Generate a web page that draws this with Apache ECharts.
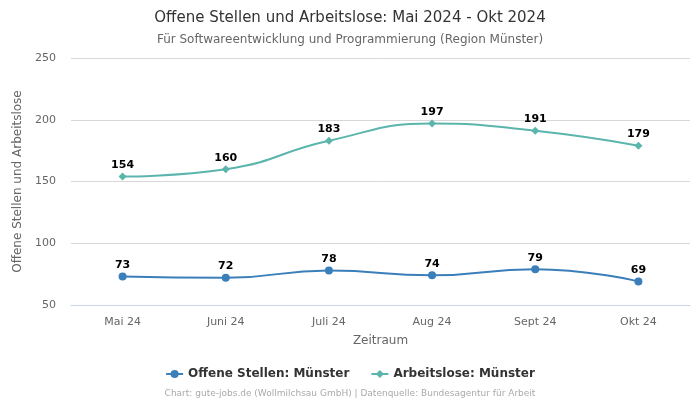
<!DOCTYPE html>
<html><head><meta charset="utf-8">
<script src="https://cdn.jsdelivr.net/npm/echarts@6/dist/echarts.min.js"></script>
<style>html,body{margin:0;padding:0;background:#fff}#c{width:700px;height:400px}</style>
</head><body><div id="c"></div>
<script>
const categories = ["Mai 24","Juni 24","Juli 24","Aug 24","Sept 24","Okt 24"];
const offeneStellen = [73,72,78,74,79,69];
const arbeitslose = [154,160,183,197,191,179];
const yTicks = [50,100,150,200,250];
const FONT = "DejaVu Sans";
const chart = echarts.init(document.getElementById('c'));
chart.setOption({
  animation:false,
  textStyle:{fontFamily:FONT},
  title:[
    {text:"Offene Stellen und Arbeitslose: Mai 2024 - Okt 2024",left:'center',top:6,
     textStyle:{fontFamily:FONT,fontSize:15,fontWeight:'normal',color:'#333'}},
    {text:"Für Softwareentwicklung und Programmierung (Region Münster)",left:'center',top:29,
     textStyle:{fontFamily:FONT,fontSize:12,fontWeight:'normal',color:'#666'}},
    {text:"Chart: gute-jobs.de (Wollmilchsau GmbH) | Datenquelle: Bundesagentur für Arbeit",left:'center',top:384,
     textStyle:{fontFamily:FONT,fontSize:9,fontWeight:'normal',color:'#aaa'}}
  ],
  legend:{bottom:15,left:'center',itemGap:21,itemWidth:17,itemHeight:10,
    textStyle:{fontFamily:FONT,fontSize:12,fontWeight:'bold',color:'#333'},
    data:["Offene Stellen: Münster","Arbeitslose: Münster"]},
  grid:{left:71,right:10,top:58,bottom:95},
  xAxis:{type:'category',data:categories,name:'Zeitraum',nameLocation:'middle',nameGap:30,
    nameTextStyle:{color:'#666',fontSize:12,fontFamily:FONT},
    axisLine:{lineStyle:{color:'#ccd6eb'}},axisTick:{show:false},
    axisLabel:{color:'#666',fontSize:11,margin:12}},
  yAxis:{type:'value',min:yTicks[0],max:yTicks[yTicks.length-1],interval:50,
    name:'Offene Stellen und Arbeitslose',nameLocation:'middle',nameGap:40,
    nameTextStyle:{color:'#666',fontSize:12,fontFamily:FONT},
    axisLabel:{color:'#666',fontSize:11,margin:15},
    splitLine:{lineStyle:{color:'#d8d8d8'}}},
  series:[
    {name:"Offene Stellen: Münster",type:'line',smooth:true,data:offeneStellen,
     symbol:'circle',symbolSize:8,itemStyle:{color:'#3a7fba'},lineStyle:{width:2},
     label:{show:true,position:'top',fontWeight:'bold',fontSize:11,color:'#000',distance:2}},
    {name:"Arbeitslose: Münster",type:'line',smooth:true,data:arbeitslose,
     symbol:'diamond',symbolSize:8,itemStyle:{color:'#5bb5ad'},lineStyle:{width:2},
     label:{show:true,position:'top',fontWeight:'bold',fontSize:11,color:'#000',distance:2}}
  ]
});
</script></body></html>
